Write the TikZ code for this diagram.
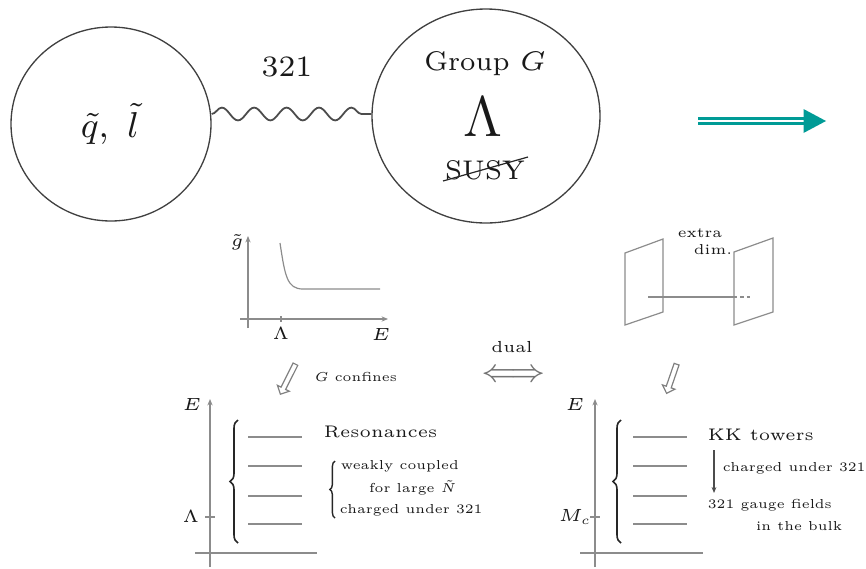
\RequirePackage{fix-cm}
\documentclass[tikz,border=0pt]{standalone}
\usetikzlibrary{shapes.geometric,shapes.arrows,decorations.pathmorphing,decorations.pathreplacing,arrows.meta}
\definecolor{tealarrow}{RGB}{0,155,150}
\begin{document}
\begin{tikzpicture}[x=0.25pt,y=-0.25pt,
  bubble/.style={ellipse, draw=black!75, line width=0.33pt, inner sep=0pt},
  bigtxt/.style={inner sep=0pt, text=black!90, font=\fontsize{6.75}{8}\selectfont},
  smalltxt/.style={inner sep=0pt, text=black!90, font=\fontsize{3.25}{4}\selectfont},
  midtxt/.style={inner sep=0pt, text=black!90, font=\fontsize{4.2}{5}\selectfont},
  labtxt/.style={inner sep=0pt, text=black!90, font=\fontsize{4.4}{5}\selectfont},
  axis/.style={draw=black!45, line width=0.3pt},
  axarrow/.style={axis, -{Stealth[length=1.6pt,width=1.3pt]}},
  level/.style={draw=black!45, line width=0.3pt},
  bigbrace/.style={decorate, decoration={brace, amplitude=2pt}, line width=0.4pt, draw=black!85},
  smallbrace/.style={decorate, decoration={brace, amplitude=1.3pt}, line width=0.35pt, draw=black!85},
  hollow/.style={single arrow, draw=black!50, line width=0.3pt, inner sep=0.5pt, minimum width=3pt, single arrow head extend=1pt, single arrow head indent=0pt},
]
\useasboundingbox (0,0) rectangle (866,568);

% ---------- top row ----------
\node[bubble, minimum width=50pt, minimum height=48.5pt] (L) at (111,124) {};
\node[bubble, minimum width=57pt, minimum height=53.5pt] (R) at (486,116) {};
\node[inner sep=0pt, text=black!90, font=\fontsize{9}{10}\selectfont] (ql) at (110,124) {$\tilde q,\ \tilde l$};
\node[inner sep=0pt, text=black!90, font=\fontsize{7.4}{9}\selectfont] (n321) at (287,67) {321};
\node[bigtxt] (grp) at (485,64) {Group $G$};
\node[inner sep=0pt, text=black!90, font=\fontsize{14.3}{16}\selectfont] (lam) at (483,117) {$\Lambda$};
\node[bigtxt] (susy) at (485,170) {SUSY};
\coordinate (s1) at (443,181);
\coordinate (s2) at (528,157);
\draw[black!85, line width=0.3pt] (s1) -- (s2);
\coordinate (w1) at ([yshift=2.5pt]L.east);
\coordinate (w2) at (R.west |- w1);
\draw[black!70, line width=0.45pt, decorate, decoration={snake, segment length=8.1pt, amplitude=1.6pt}] (w1) -- (w2);

% teal arrow
\coordinate (t1) at (698,121);
\coordinate (t2) at (804,121);
\coordinate (t3) at (826,121);
\draw[tealarrow, line width=0.65pt, double=white, double distance=0.58pt] (t1) -- (t2);
\fill[tealarrow] (803.5,109) -- (t3) -- (803.5,133) -- cycle;

% ---------- running coupling plot ----------
\coordinate (gy0) at (248,328);
\coordinate (gy1) at (248,236);
\coordinate (gx0) at (240,319);
\coordinate (gx1) at (388,319);
\draw[axarrow] (gy0) -- (gy1);
\draw[axarrow] (gx0) -- (gx1);
\draw[axis] (281,316) -- (281,322);
\node[labtxt] (gt) at (237,242) {$\tilde g$};
\node[labtxt] (gL) at (281,334) {$\Lambda$};
\node[labtxt] (gE) at (381,334) {$E$};
\draw[axis] (280,243) .. controls (285,276) and (287,289) .. (303,289) -- (380,289);

% ---------- branes ----------
\draw[axis] (625,325) -- (625,253) -- (663,239) -- (663,312) -- cycle;
\draw[axis] (734,325) -- (734,252) -- (773,238) -- (773,312) -- cycle;
\coordinate (b1) at (648,297);
\coordinate (b2) at (734,297);
\coordinate (b3) at (751,297);
\draw[axis] (b1) -- (b2);
\draw[axis, dash pattern=on 0.8pt off 0.8pt] (b2) -- (b3);
\node[inner sep=0pt, text=black!90, font=\fontsize{3.6}{4}\selectfont] (ex) at (700,233) {extra};
\node[inner sep=0pt, text=black!90, font=\fontsize{3.6}{4}\selectfont] (dm) at (713,250) {dim.};

% ---------- middle row ----------
\node[hollow, minimum height=8.4pt, rotate=243.4] (h1) at (288.5,378) {};
\node[smalltxt, anchor=west] (conf) at (314,377) {$G$ confines};
\node[hollow, minimum height=7.7pt, rotate=251] (h2) at (672,377.5) {};
\node[inner sep=0pt, text=black!90, font=\fontsize{4}{5}\selectfont] (dual) at (512,347) {dual};
\node[inner sep=0pt, text=black!55, font=\fontsize{7.75}{9}\selectfont] (dualarr) at (514,376) {$\Longleftrightarrow$};

% ---------- left spectrum ----------
\coordinate (ly0) at (210,567);
\coordinate (ly1) at (210,399);
\coordinate (lx0) at (195,553);
\coordinate (lx1) at (317,553);
\draw[axarrow] (ly0) -- (ly1);
\draw[axis] (lx0) -- (lx1);
\draw[axis] (205,517) -- (215,517);
\node[labtxt] (lE) at (192,404) {$E$};
\node[labtxt] (lL) at (191,517) {$\Lambda$};
\foreach \y in {437,466,496,524} \draw[level] (248,\y) -- (302,\y);
\draw[bigbrace] (238,543) -- (238,420);
\node[midtxt, anchor=west] (res) at (323,432) {Resonances};
\draw[smallbrace] (335,518) -- (335,461);
\node[smalltxt, anchor=west] (wc) at (340,466) {weakly coupled};
\node[smalltxt, anchor=east] (fl) at (457,488) {for large $\tilde N$};
\node[smalltxt, anchor=west] (cu) at (339,510) {charged under 321};

% ---------- right spectrum ----------
\coordinate (ry0) at (595,567);
\coordinate (ry1) at (595,399);
\coordinate (rx0) at (580,553);
\coordinate (rx1) at (703,553);
\draw[axarrow] (ry0) -- (ry1);
\draw[axis] (rx0) -- (rx1);
\draw[axis] (590,517) -- (600,517);
\node[labtxt] (rE) at (575,404) {$E$};
\node[labtxt] (rM) at (575,517) {$M_c$};
\foreach \y in {437,466,496,524} \draw[level] (633,\y) -- (687,\y);
\draw[bigbrace] (621,543) -- (621,420);
\node[midtxt, anchor=west] (kk) at (707,435) {KK towers};
\coordinate (a1) at (714,450);
\coordinate (a2) at (714,493);
\draw[black!70, line width=0.3pt, -{Stealth[length=1.5pt,width=1.2pt]}] (a1) -- (a2);
\node[smalltxt, anchor=west] (cu2) at (722,468) {charged under 321};
\node[smalltxt, anchor=west] (gf) at (707,505) {321 gauge fields};
\node[smalltxt, anchor=east] (bulk) at (843,526) {in the bulk};
\end{tikzpicture}
\end{document}
